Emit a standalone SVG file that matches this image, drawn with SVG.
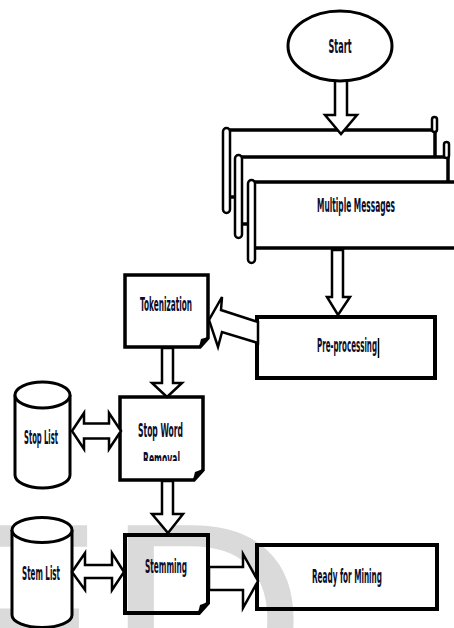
<svg xmlns="http://www.w3.org/2000/svg" width="454" height="628" viewBox="0 0 454 628">
  <style>
    .blk { fill: #fff; stroke: #000; stroke-width: 2.5; stroke-linejoin: miter; }
    .box { fill: #fff; stroke: #000; stroke-width: 4; }
    .open { fill: none; stroke: #000; stroke-width: 4; }
    .doc { fill: #fff; stroke: #000; stroke-width: 3.5; stroke-linejoin: miter; }
    .cyl { fill: #fff; stroke: #000; stroke-width: 3; }
    .roll { fill: #fff; stroke: #000; stroke-width: 2.5; }
    .body { fill: #fff; stroke: #000; stroke-width: 3.5; }
    .t { font-family: "Liberation Sans Narrow", "DejaVu Sans Condensed", "Liberation Sans", sans-serif; font-size: 19px; font-weight: bold; fill: #0c0c2a; text-anchor: middle; }
    .wm { font-family: "Liberation Sans", Arial, sans-serif; font-size: 280px; fill: #dadada; }
  </style>
  <defs>
    <clipPath id="clipRemoval">
      <rect x="120" y="440" width="83" height="21"/>
    </clipPath>
  </defs>

  <rect x="0" y="0" width="454" height="628" fill="#fff"/>

  <!-- background watermark -->
  <text class="wm" x="-82" y="718">ED</text>

  <!-- stacked message scrolls -->
  <g id="multiple-messages">
    <rect class="body" x="228" y="130" width="207" height="67"/>
    <rect class="roll" x="432" y="117" width="5" height="15" rx="2.5"/>
    <rect class="roll" x="223" y="128" width="7" height="85" rx="3.5"/>

    <rect class="body" x="240" y="157" width="208" height="67"/>
    <rect class="roll" x="444" y="142" width="5" height="16" rx="2.5"/>
    <rect class="roll" x="235" y="155" width="7" height="83" rx="3.5"/>

    <rect class="body" x="253" y="182" width="215" height="66"/>
    <rect class="roll" x="248" y="180" width="7" height="83" rx="3.5"/>
    <text class="t" x="356" y="212" font-size="17" textLength="78" lengthAdjust="spacingAndGlyphs">Multiple Messages</text>
  </g>

  <g id="pre-processing">
    <rect class="box" x="257" y="317" width="178" height="61"/>
    <text class="t" x="347" y="352" font-size="17" textLength="60" lengthAdjust="spacingAndGlyphs">Pre-processing</text>
    <line x1="378.5" y1="338" x2="378.5" y2="358" stroke="#000" stroke-width="1.5"/>
  </g>

  <g id="tokenization">
    <path class="doc" d="M125,275 H208 V338 L200,347 H125 Z"/>
    <path d="M199,347 L201,339 L208,337 Z" fill="#000"/>
    <text class="t" x="166" y="311" textLength="52" lengthAdjust="spacingAndGlyphs">Tokenization</text>
  </g>

  <g id="stop-word-removal">
    <path class="doc" d="M120,397 H203 V470 L194,480 H120 Z"/>
    <path d="M193,480 L195,472 L203,469 Z" fill="#000"/>
    <text class="t" x="160.5" y="437" textLength="45" lengthAdjust="spacingAndGlyphs">Stop Word</text>
    <text class="t" x="161.5" y="466" textLength="37" lengthAdjust="spacingAndGlyphs" clip-path="url(#clipRemoval)">Removal</text>
  </g>

  <g id="stop-list">
    <path class="cyl" d="M15,395 A27.5,13 0 0 1 70,395 V475 A27.5,13 0 0 1 15,475 Z"/>
    <path class="cyl" fill="none" d="M15,395 A27.5,13 0 0 0 70,395"/>
    <text class="t" x="41" y="444" textLength="34" lengthAdjust="spacingAndGlyphs">Stop List</text>
  </g>

  <g id="stemming">
    <path class="open" stroke-width="3.5" d="M125,535 H208 V603 L199,613 H125 Z"/>
    <path d="M198,613 L200,605 L208,602 Z" fill="#000"/>
    <text class="t" x="166" y="573" textLength="42" lengthAdjust="spacingAndGlyphs">Stemming</text>
  </g>

  <g id="stem-list">
    <path class="cyl" d="M12,530 A30,12.5 0 0 1 72,530 V615 A30,12.5 0 0 1 12,615 Z"/>
    <path class="cyl" fill="none" d="M12,530 A30,12.5 0 0 0 72,530"/>
    <text class="t" x="41" y="580" textLength="38" lengthAdjust="spacingAndGlyphs">Stem List</text>
  </g>

  <g id="ready-for-mining">
    <rect class="open" x="257" y="545" width="180" height="64"/>
    <text class="t" x="347" y="583" textLength="70" lengthAdjust="spacingAndGlyphs">Ready for Mining</text>
  </g>

  <!-- block-arrow connectors -->
  <g id="connectors">
    <polygon class="blk" points="335,70 347,70 347,115 357,115 341,134 325,115 335,115"/>
    <polygon class="blk" points="332,250 343,250 343,297 350,297 338,315 327,297 332,297"/>
    <polygon class="blk" points="258,322 221,310 222,297 209,320 218,347 222,332 258,343"/>
    <polygon class="blk" points="162,348 173,348 173,383 182,383 167,397 152,383 162,383"/>
    <polygon class="blk" points="162,481 173,481 173,514 183,514 168,533 152,514 162,514"/>
    <polygon class="blk" points="72,431 84,413 84,423.5 109,423.5 109,413 121,431 109,449 109,438.5 84,438.5 84,449"/>
    <polygon class="blk" points="72,572 85,553 85,565 112,565 112,553 124,572 112,590 112,578 85,578 85,590"/>
    <polygon class="blk" points="209,567 243,567 243,554 258,581 243,608 243,590 209,590"/>
  </g>

  <g id="start">
    <ellipse class="cyl" stroke-width="2.5" cx="340" cy="46" rx="52" ry="35"/>
    <text class="t" x="340" y="53" font-size="20" textLength="23" lengthAdjust="spacingAndGlyphs">Start</text>
  </g>
</svg>
